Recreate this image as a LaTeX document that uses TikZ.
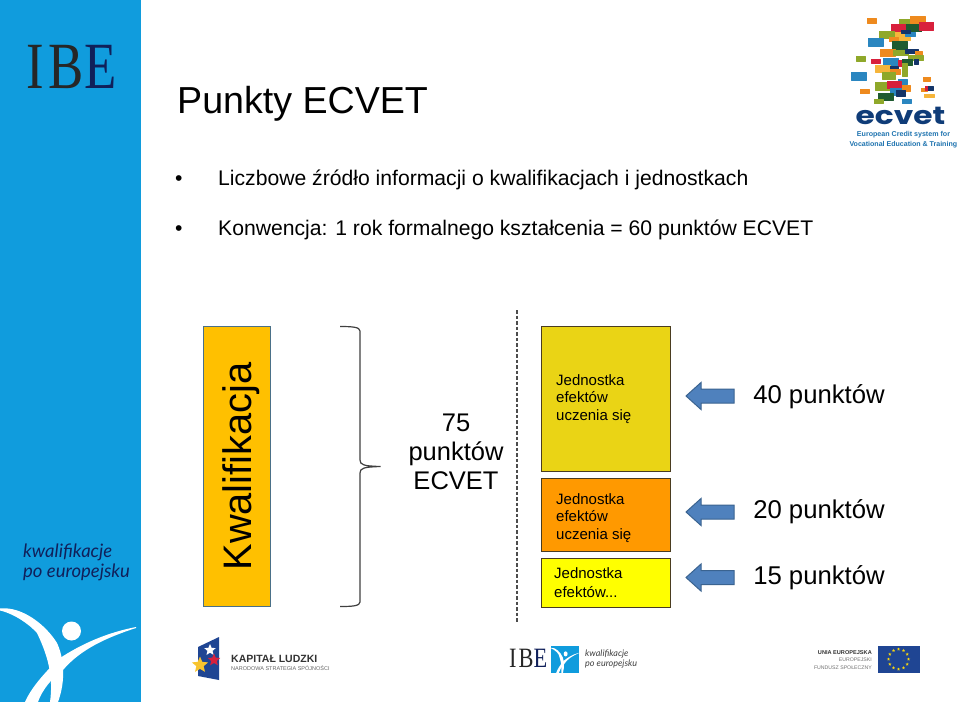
\documentclass[tikz,border=0pt]{standalone}
\usepackage{fontspec}
\usetikzlibrary{shapes.geometric}
\setmainfont{Liberation Sans}
\newfontfamily\serifibe[LetterSpace=9]{Liberation Serif}
\newfontfamily\latofont{Lato}
\newfontfamily\popfont{Poppins}
\definecolor{panel}{HTML}{109CDD}
\definecolor{ibenavy}{HTML}{10205A}
\definecolor{kfill}{HTML}{FFC000}
\definecolor{kline}{HTML}{4A7088}
\definecolor{ufill}{HTML}{EAD415}
\definecolor{ofill}{HTML}{FF9900}
\definecolor{yfill}{HTML}{FFFF00}
\definecolor{uline}{HTML}{4A3C20}
\definecolor{arfill}{HTML}{4F81BD}
\definecolor{arline}{HTML}{3A6390}
\definecolor{ecv}{HTML}{0F3C78}
\definecolor{ecb}{HTML}{1F74B0}
\definecolor{eo}{HTML}{EE8A1E}
\definecolor{eg}{HTML}{8FA82A}
\definecolor{ed}{HTML}{1F5B30}
\definecolor{er}{HTML}{D8203C}
\definecolor{eb}{HTML}{2A86C0}
\definecolor{en}{HTML}{143468}
\definecolor{ey}{HTML}{F6B53A}
\definecolor{euflag}{HTML}{1F4593}
\definecolor{eustar}{HTML}{F6D510}
\newcommand{\ibefig}{%
  \fill[white] (0,608.5) .. controls (22,606) and (46,625) .. (57,643) .. controls (64,658) and (66,680) .. (58,702)
     -- (50,702) .. controls (53,680) and (50,660) .. (37,633) .. controls (30,625) and (15,614) .. (0,610.5) -- cycle;
  \fill[white] (136,627) .. controls (105,633) and (80,645) .. (60,658) .. controls (45,672) and (31,688) .. (25,702)
     -- (38,702) .. controls (42,690) and (52,678) .. (63,670) .. controls (80,650) and (105,638) .. (136,628) -- cycle;
  \fill[white] (71.5,631) circle (9.5);
}
\newcommand{\ecr}[5]{\fill[#1,draw=#1,line width=.8pt,line join=round] (#2,#3) rectangle (#4,#5);}
\newcommand{\ptr}[1]{\draw[ptrstyle] (734,#1-7) -- (701,#1-7) -- (701,#1-13.5) -- (686,#1) -- (701,#1+13.5) -- (701,#1+7) -- (734,#1+7) -- cycle;}
\tikzset{
  slidetext/.style={anchor=base west,inner sep=0,font=\fontsize{21.15}{24}\selectfont},
  points/.style={anchor=base,inner sep=0,font=\fontsize{25.7}{30}\selectfont},
  unitbox/.style={draw=uline,line width=1pt},
  unittext/.style={anchor=base west,inner sep=0,align=left,font=\fontsize{15}{17.4}\selectfont},
  ptrstyle/.style={fill=arfill,draw=arline,line width=1pt},
}
\begin{document}
\begin{tikzpicture}[x=1pt,y=-1pt]
\useasboundingbox (0,0) rectangle (960,702);
\fill[white] (0,0) rectangle (960,702);
% panel
\fill[panel] (0,0) rectangle (140.5,702);
\node[inner sep=0,anchor=base west,xscale=.8] (ibeA) at (26.5,88) {\fontsize{66}{70}\serifibe\textcolor{black!85}{IB}\textcolor{ibenavy}{E}};
\node[inner sep=0,anchor=base west,align=left,text=ibenavy,font=\fontsize{18.5}{19.5}\latofont\itshape] (kpe) at (23,577) {kwalifikacje\\po europejsku};
\begin{scope}
\clip (0,600) rectangle (140.5,702);
\ibefig
\end{scope}
% title
\node[anchor=base west,inner sep=0,font=\fontsize{37.6}{44}\selectfont] (title) at (177,113) {Punkty ECVET};
\node[slidetext] (b1) at (175,185.5) {•};
\node[slidetext] (l1) at (218,185.5) {Liczbowe źródło informacji o kwalifikacjach i jednostkach};
\node[slidetext] (b2) at (175,235.5) {•};
\node[slidetext] (l2) at (218,235.5) {Konwencja: 1 rok formalnego kształcenia = 60 punktów ECVET};
% qualification
\node[draw=kline,fill=kfill,line width=1pt,minimum width=67.5pt,minimum height=280.5pt,inner sep=0] (kw) at (237,466.3) {};
\node[rotate=90,inner sep=0,anchor=base,font=\fontsize{39.8}{40}\selectfont] (kwt) at (251,466.5) {Kwalifikacja};
\draw[black!75,line width=1.2pt] (340,326.5) .. controls (352,326.5) and (360,327) .. (360,331) -- (360,460) .. controls (360,465) and (364,466) .. (380.5,466.5) .. controls (364,467) and (360,468) .. (360,473) -- (360,602) .. controls (360,606) and (352,606.5) .. (340,606.5);
\node[inner sep=0,anchor=base,align=center,font=\fontsize{25.5}{29}\selectfont] (ects) at (456,489) {75\\punktów\\ECVET};
\coordinate (dashA) at (517,310);
\coordinate (dashB) at (517,623);
\draw[black!70,line width=1.2pt,dash pattern=on 3.5pt off 2pt] (dashA) -- (dashB);
% units
\draw[unitbox,fill=ufill] (541,326) rectangle (670,471);
\draw[unitbox,fill=ofill] (541,478.5) rectangle (670,551);
\draw[unitbox,fill=yfill] (541,558) rectangle (670,607);
\node[unittext] (u1) at (556,420) {Jednostka\\efektów\\uczenia się};
\node[unittext] (u2) at (556,539) {Jednostka\\efektów\\uczenia się};
\node[unittext,font=\fontsize{15}{19}\selectfont] (u3) at (554,597) {Jednostka\\efektów...};
\ptr{396}
\ptr{512}
\ptr{577.5}
\node[points] (p1) at (819,403) {40 punktów};
\node[points] (p2) at (819,518) {20 punktów};
\node[points] (p3) at (819,584) {15 punktów};
% ecvet logo
\begin{scope}[shift={(840,0)},x=.3333pt,y=-.3333pt]
\ecr{eo}{83}{55}{108}{70}\ecr{eg}{178}{58}{215}{75}\ecr{eo}{212}{50}{256}{70}\ecr{er}{155}{73}{200}{95}\ecr{ed}{200}{72}{245}{95}\ecr{er}{238}{67}{281}{90}
\ecr{eg}{118}{93}{162}{115}\ecr{ey}{165}{98}{210}{120}\ecr{eb}{197}{97}{225}{110}\ecr{en}{183}{90}{210}{100}
\ecr{eb}{86}{115}{131}{138}\ecr{eo}{148}{112}{175}{125}\ecr{ed}{158}{125}{203}{150}
\ecr{eo}{120}{147}{165}{170}\ecr{eg}{160}{150}{205}{165}\ecr{en}{197}{147}{235}{160}\ecr{eo}{225}{155}{248}{165}\ecr{eg}{205}{165}{250}{180}
\ecr{eg}{50}{170}{77}{183}\ecr{er}{94}{177}{120}{190}\ecr{eb}{131}{175}{175}{198}\ecr{er}{175}{180}{190}{198}\ecr{ed}{188}{178}{218}{195}\ecr{en}{222}{178}{236}{192}
\ecr{ey}{107}{195}{150}{217}\ecr{en}{150}{198}{175}{212}\ecr{eo}{150}{207}{180}{222}\ecr{eg}{188}{190}{202}{228}\ecr{eb}{34}{217}{79}{240}\ecr{eg}{128}{217}{165}{238}
\ecr{eg}{105}{248}{150}{270}\ecr{eb}{175}{238}{202}{252}\ecr{eo}{185}{255}{210}{275}\ecr{er}{142}{245}{185}{266}\ecr{eb}{150}{265}{185}{285}\ecr{ed}{114}{280}{160}{302}\ecr{en}{170}{270}{195}{290}
\ecr{eg}{103}{297}{130}{311}\ecr{eb}{186}{297}{213}{311}\ecr{eo}{61}{267}{87}{281}\ecr{eo}{250}{232}{272}{243}\ecr{eo}{243}{265}{262}{275}\ecr{er}{255}{260}{268}{272}\ecr{en}{265}{260}{280}{272}\ecr{ey}{252}{283}{282}{292}
\end{scope}
\node[inner sep=0,anchor=base,text=ecv,xscale=1.25,font=\fontsize{25}{25}\popfont\bfseries] (ecvetword) at (900.5,124) {ecvet};
\node[inner sep=0,anchor=base,text=ecb,font=\fontsize{7.1}{10}\selectfont\bfseries] (ec1) at (903.5,136) {European Credit system for};
\node[inner sep=0,anchor=base,text=ecb,font=\fontsize{7.05}{10}\selectfont\bfseries] (ec2) at (903.3,146) {Vocational Education \& Training};
% Kapital Ludzki
\fill[euflag] (198,647) -- (219,637) -- (219,680) -- (198,676) -- cycle;
\node[star,star points=5,star point ratio=2.2,fill=white,inner sep=0,minimum size=12pt] (s1) at (210,650) {};
\node[star,star points=5,star point ratio=2.2,fill=er,inner sep=0,minimum size=13pt] (s2) at (214,660) {};
\node[star,star points=5,star point ratio=2.2,fill=ey!80!yellow,inner sep=0,minimum size=17pt] (s3) at (200,665) {};
\node[inner sep=0,anchor=base west,text=black!80,font=\fontsize{10.5}{12}\selectfont\bfseries] (kl) at (231,662) {KAPITAŁ LUDZKI};
\node[inner sep=0,anchor=base west,text=black!60,font=\fontsize{5.5}{7}\selectfont] (ns) at (231,670.5) {NARODOWA STRATEGIA SPÓJNOŚCI};
% IBE small
\node[inner sep=0,anchor=base west,xscale=.8] (ibeB) at (509,667) {\fontsize{28}{30}\serifibe\addfontfeature{LetterSpace=9}\textcolor{black!85}{IB}\textcolor{ibenavy}{E}};
\fill[panel] (551,645.5) rectangle (579,673);
\begin{scope}
\clip (551,645.5) rectangle (579,673);
\begin{scope}[shift={(551,645.5)},x=.205pt,y=-.27pt]
\begin{scope}[shift={(0,-600)}]
\ibefig
\end{scope}
\end{scope}
\end{scope}
\node[inner sep=0,anchor=base west,align=left,text=black!75,font=\fontsize{9}{10}\latofont\itshape] (kpe2) at (585,666) {kwalifikacje\\po europejsku};
% EU
\node[inner sep=0,anchor=base east,text=black!80,font=\fontsize{5.6}{7}\selectfont\bfseries] (eu1) at (872,654) {UNIA EUROPEJSKA};
\node[inner sep=0,anchor=base east,text=black!55,font=\fontsize{5.2}{7}\selectfont] (eu2) at (872,661.5) {EUROPEJSKI};
\node[inner sep=0,anchor=base east,text=black!55,font=\fontsize{5.2}{7}\selectfont] (eu3) at (872,669) {FUNDUSZ SPOŁECZNY};
\fill[euflag] (877.5,645.5) rectangle (919.5,673);
\foreach \a [count=\i] in {0,30,...,330}{\node[star,star points=5,star point ratio=2.4,fill=eustar,inner sep=0,minimum size=3.4pt] (eus\i) at ({898.5+10*cos(\a)},{659.2+10*sin(\a)}) {};}
\end{tikzpicture}
\end{document}
